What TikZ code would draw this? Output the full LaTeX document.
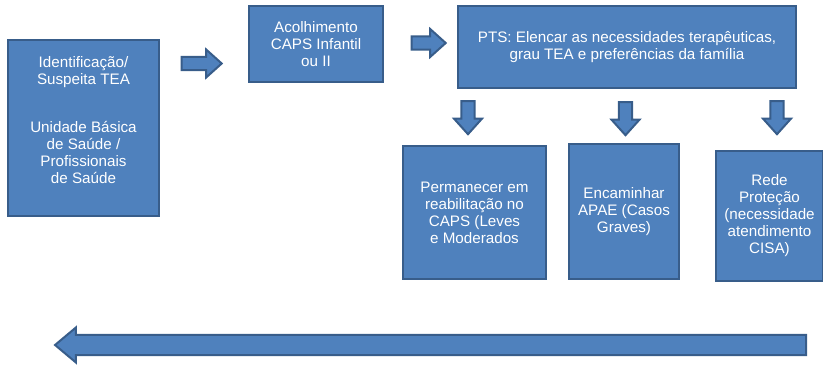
\documentclass[tikz,border=0pt]{standalone}
\usepackage{fontspec}
\setmainfont{Liberation Sans}
\usepackage{tikz}
\usetikzlibrary{shapes.arrows}
\usepackage{xcolor}
\definecolor{ColFill}{RGB}{79,129,189}
\definecolor{ColLine}{RGB}{56,93,138}
\tikzstyle{BoxFlow}=[rectangle,draw=ColLine,fill=ColFill,line width=2pt,text=white,
align=center,inner sep=2pt,font=\fontsize{15.2}{17}\selectfont]
\tikzstyle{ArrowBlock}=[single arrow,draw=ColLine,fill=ColFill,line width=2pt,inner xsep=0pt,
inner ysep=5.5pt,single arrow tip angle=84,minimum width=28pt]
\begin{document}
\begin{tikzpicture}[x=1pt,y=-1pt]
        \useasboundingbox(0,0)rectangle(823,366);
        \node[BoxFlow,minimum width=151pt,minimum height=176pt](ubs)at(83.5,128){Identificação/\\Suspeita TEA\\[31pt]Unidade Básica\\de Saúde /\\Profissionais\\de Saúde\\[0pt]\mbox{}};
        \node[BoxFlow,minimum width=134pt,minimum height=76pt](acolh)at(316,44){Acolhimento\\CAPS Infantil\\ou II};
        \node[BoxFlow,minimum width=338pt,minimum height=82pt](pts)at(627,47){PTS: Elencar as necessidades terapêuticas,\\grau TEA e preferências da família};
        \node[BoxFlow,minimum width=143pt,minimum height=133pt](perm)at(474.5,212.5){Permanecer em\\reabilitação no\\CAPS (Leves\\e Moderados};
        \node[BoxFlow,minimum width=110pt,minimum height=135pt](encam)at(624,211.5){Encaminhar\\APAE (Casos\\Graves)};
        \node[BoxFlow,minimum width=107pt,minimum height=130pt](rede)at(769.5,216){Rede\\Proteção\\(necessidade\\atendimento\\CISA)};
        \node[ArrowBlock,minimum height=40pt](arrA)at(198,63.5){};
        \node[ArrowBlock,minimum height=34pt](arrB)at(425,43){};
        \node[ArrowBlock,minimum height=33pt,rotate=-90](arrC)at(468,114){};
        \node[ArrowBlock,minimum height=33pt,rotate=-90](arrD)at(625.5,115){};
        \node[ArrowBlock,minimum height=33pt,rotate=-90](arrE)at(777,114){};
        \node[ArrowBlock,inner ysep=8.5pt,minimum width=35pt,minimum height=751pt,rotate=180,
            single arrow tip angle=80](arrF)at(436.5,345){};
    \end{tikzpicture}
\end{document}
